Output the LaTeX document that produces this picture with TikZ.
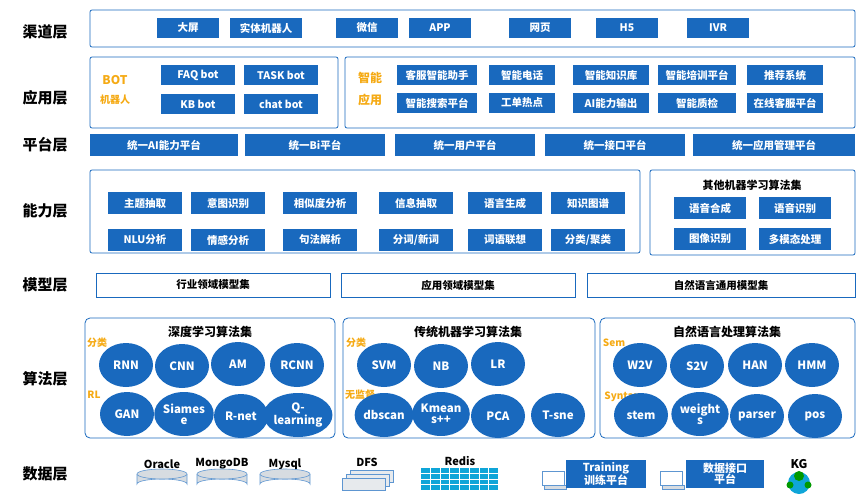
\documentclass[tikz,border=0pt]{standalone}
\usepackage{fontspec}
\setmainfont{Noto Sans CJK SC}
\usetikzlibrary{shapes.geometric}
\definecolor{bl}{RGB}{25,105,190}
\definecolor{org}{RGB}{245,170,20}
\definecolor{gr}{RGB}{215,220,225}
\begin{document}
\begin{tikzpicture}[x=1pt,y=-1pt,
  lay/.style={font=\fontsize{15}{15}\selectfont\bfseries},
  frame/.style={draw=bl,line width=0.8pt,rounded corners=2pt},
  bb/.style={fill=bl,text=white,font=\fontsize{10.5}{11}\selectfont\bfseries,minimum height=20pt,inner sep=1pt},
  ob/.style={draw=bl,line width=0.8pt,fill=white,font=\fontsize{10.5}{11}\selectfont\bfseries,minimum height=24pt,minimum width=234pt},
  el/.style={ellipse,fill=bl,text=white,font=\fontsize{11.5}{11}\selectfont\bfseries,minimum width=54pt,minimum height=44pt,inner sep=0pt,align=center},
  tag/.style={text=org,font=\fontsize{10}{10}\selectfont\bfseries},
  ttl/.style={font=\fontsize{12}{12}\selectfont\bfseries},
  cyl/.style={fill=gr,draw=bl!70,line width=0.6pt}]
\useasboundingbox (0,0) rectangle (865,498);
% layer labels
\foreach \n/\t/\y in {l1/渠道层/32,l2/应用层/98,l3/平台层/145,l4/能力层/211,l5/模型层/285,l6/算法层/379,l7/数据层/474}
  \node[lay] (\n) at (45,\y) {\t};
% channel
\draw[frame] (90,10) rectangle (855,47);
\foreach \n/\t/\x/\w in {c1/大屏/188/62,c2/实体机器人/266/72,c3/微信/367/62,c4/APP/440/62,c5/网页/540/62,c6/H5/627/62,c7/IVR/718/62}
  \node[bb,minimum width=\w pt] (\n) at (\x,28) {\t};
% application
\draw[frame] (90,57) rectangle (338,128);
\draw[frame] (345,57) rectangle (855,128);
\node[tag,font=\fontsize{12}{12}\selectfont\bfseries] (bot) at (115,80) {BOT};
\node[tag] (botr) at (115,100) {机器人};
\foreach \n/\t/\x/\y in {a1/FAQ bot/198/75,a2/TASK bot/281/75,a3/KB bot/198/104,a4/chat bot/281/104}
  \node[bb,minimum width=74pt] (\n) at (\x,\y) {\t};
\node[tag,font=\fontsize{12}{12}\selectfont\bfseries] (zn) at (370,78) {智能};
\node[tag,font=\fontsize{12}{12}\selectfont\bfseries] (yy) at (370,100) {应用};
\foreach \n/\t/\x/\y/\w in {b1/客服智能助手/437/75/80,b2/智能电话/522/75/66,b3/智能知识库/611/75/76,b4/智能培训平台/697/75/78,b5/推荐系统/785/75/76,
  b6/智能搜索平台/437/103/80,b7/工单热点/522/103/66,b8/AI能力输出/611/103/76,b9/智能质检/697/103/78,b10/在线客服平台/785/103/76}
  \node[bb,minimum width=\w pt] (\n) at (\x,\y) {\t};
% platform
\foreach \n/\t/\x/\w in {p1/统一AI能力平台/164/148,p2/统一Bi平台/315/140,p3/统一用户平台/465/140,p4/统一接口平台/615/140,p5/统一应用管理平台/774/162}
  \node[bb,minimum width=\w pt,minimum height=22pt] (\n) at (\x,145) {\t};
% ability
\draw[frame] (90,170) rectangle (640,253);
\foreach \n/\t/\x/\y in {d1/主题抽取/145/203,d2/意图识别/228/203,d3/相似度分析/320/203,d4/信息抽取/416/203,d5/语言生成/505/203,d6/知识图谱/588/203,
  d7/NLU分析/145/240,d8/情感分析/228/240,d9/句法解析/320/240,d10/{分词/新词}/416/240,d11/词语联想/505/240,d12/{分类/聚类}/588/240}
  \node[bb,minimum width=74pt,minimum height=22pt] (\n) at (\x,\y) {\t};
\draw[frame] (650,170) rectangle (855,255);
\node[font=\fontsize{11}{11}\selectfont\bfseries] (oth) at (752,185) {其他机器学习算法集};
\foreach \n/\t/\x/\y in {e1/语音合成/710/208,e2/语音识别/795/208,e3/图像识别/710/239,e4/多模态处理/795/239}
  \node[bb,minimum width=72pt,minimum height=22pt] (\n) at (\x,\y) {\t};
% model
\node[ob] (m1) at (213,285) {行业领域模型集};
\node[ob] (m2) at (458,285) {应用领域模型集};
\node[ob,minimum width=268pt] (m3) at (721,285) {自然语言通用模型集};
% algorithms
\draw[frame,rounded corners=5pt] (85,318) rectangle (335,438);
\draw[frame,rounded corners=5pt] (343,318) rectangle (595,438);
\draw[frame,rounded corners=5pt] (600,318) rectangle (855,438);
\node[ttl] (t1) at (210,332) {深度学习算法集};
\node[ttl] (t2) at (468,332) {传统机器学习算法集};
\node[ttl] (t3) at (727,332) {自然语言处理算法集};
\node[tag] (g1) at (97,343) {分类};
\node[tag] (g2) at (94,395) {RL};
\node[tag] (g3) at (356,343) {分类};
\node[tag] (g4) at (360,395) {无监督};
\node[tag] (g5) at (614,343) {Sem};
\node[tag] (g6) at (622,397) {Syntax};
\foreach \n/\t/\x/\y in {r1/RNN/126/365,r2/CNN/182/366,r3/AM/238/364,r4/RCNN/297/365,
  r5/GAN/127/414,r6/{Siames\\e}/184/414,r7/R-net/241/416,r8/{Q-\\learning}/298/415,
  s1/SVM/384/365,s2/NB/441/366,s3/LR/498/364,
  s4/dbscan/384/415,s5/{Kmean\\s++}/441/414,s6/PCA/498/416,s7/T-sne/558/415,
  n1/W2V/640/365,n2/S2V/697/366,n3/HAN/755/365,n4/HMM/812/365,
  n5/stem/641/415,n6/{weight\\s}/700/414,n7/parser/757/416,n8/pos/815/416}
  \node[el] (\n) at (\x,\y) {\t};
% data layer
\foreach \n/\t/\x in {o1/Oracle/162,o2/MongoDB/222,o3/Mysql/285}{
  \node[font=\fontsize{11}{11}\selectfont\bfseries] (\n) at (\x,464) {\t};
  \draw[cyl] (\x-25,474) -- (\x-25,484) arc[start angle=180,end angle=360,x radius=25,y radius=5] -- (\x+25,474);
  \draw[cyl] (\x,474) ellipse[x radius=25,y radius=5];
}
\node[font=\fontsize{11}{11}\selectfont\bfseries] (dfs) at (367,462) {DFS};
\foreach \d in {8,4,0}
  \draw[fill=gr!60!white,draw=bl!70] (342+\d,478-\d) rectangle (385+\d,490-\d);
\node[font=\fontsize{11}{11}\selectfont\bfseries] (redis) at (460,461) {Redis};
\foreach \x in {421,460}{
  \fill[bl!60!cyan] (\x,468) rectangle (\x+38,490);
  \foreach \yy in {473.5,479,484.5} \draw[white,line width=1pt] (\x,\yy) -- (\x+38,\yy);
  \foreach \xx in {9.5,19,28.5} \draw[white,line width=1pt] (\x+\xx,468) -- (\x+\xx,490);
}
\draw[fill=white,draw=bl!70] (542,471) rectangle (564,485);
\draw[fill=gr,draw=bl!70] (544,485) rectangle (566,489);
\node[fill=bl,text=white,font=\fontsize{11}{11}\selectfont\bfseries,minimum width=80pt,minimum height=28pt,align=center,inner sep=1pt] (tr) at (606,474) {Training\\训练平台};
\draw[fill=white,draw=bl!70] (660,471) rectangle (682,485);
\draw[fill=gr,draw=bl!70] (662,485) rectangle (684,489);
\node[fill=bl,text=white,font=\fontsize{11}{11}\selectfont\bfseries,minimum width=78pt,minimum height=28pt,align=center,inner sep=1pt] (di) at (725,474) {数据接口\\平台};
\node[font=\fontsize{12}{12}\selectfont\bfseries] (kg) at (799,464) {KG};
\fill[bl!60!cyan] (799,483) circle (11);
\fill[green!60!black] (799,476) circle (5);
\fill[green!60!black] (790,485) circle (3.5);
\fill[green!60!black] (808,485) circle (3.5);
\end{tikzpicture}
\end{document}
